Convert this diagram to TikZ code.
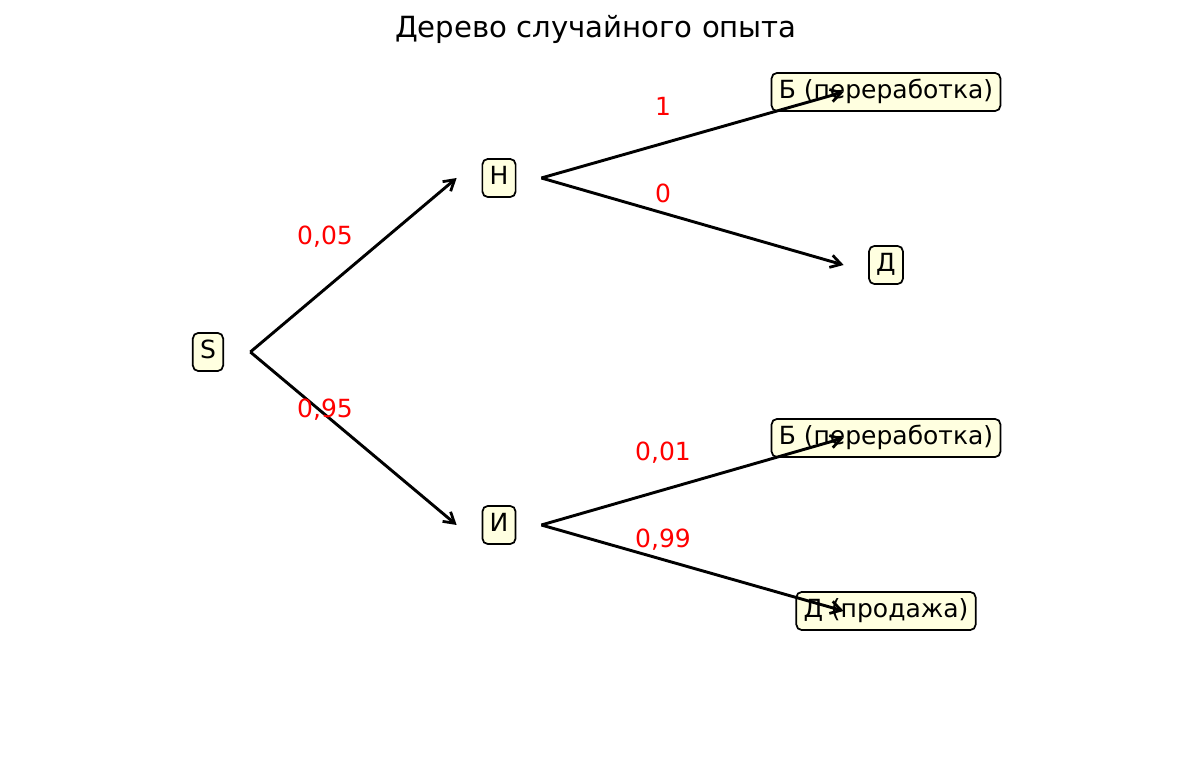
\documentclass[tikz,border=0pt]{standalone}
\usepackage{fontspec}
\setmainfont{DejaVu Sans}
\usetikzlibrary{arrows.meta}
\definecolor{boxfill}{HTML}{FFFFE0}
\begin{document}
\begin{tikzpicture}[x=0.72pt,y=-0.72pt,
  treenode/.style={draw=black,line width=1.25pt,fill=boxfill,rounded corners=4pt,
    font=\fontsize{18}{21}\selectfont,text height=13.2pt,text depth=3.4pt,
    minimum height=27.5pt,inner xsep=5.2pt,inner ysep=0pt},
  problabel/.style={text=red,font=\fontsize{18}{21}\selectfont,inner sep=0pt},
  branch/.style={line width=2.1pt,-{Straight Barb[length=7.5pt,width=9pt,line width=2pt]}}]
\useasboundingbox (0,0) rectangle (1192,757);
\node[font=\fontsize{21}{25}\selectfont,inner sep=0pt] (title) at (596,29.5) {Дерево случайного опыта};
\node[treenode] (S) at (208,352) {S};
\node[treenode] (N) at (499,178) {Н};
\node[treenode] (I) at (499,525) {И};
\node[treenode] (B1) at (886,92) {Б (переработка)};
\node[treenode] (D1) at (886,265) {Д};
\node[treenode] (B2) at (886,438) {Б (переработка)};
\node[treenode] (D2) at (886,611) {Д (продажа)};
\draw[branch] ([xshift=30.5pt]S.center) -- ([xshift=-30.5pt]N.center);
\draw[branch] ([xshift=30.5pt]S.center) -- ([xshift=-30.5pt]I.center);
\draw[branch] ([xshift=30.5pt]N.center) -- ([xshift=-30.5pt]B1.center);
\draw[branch] ([xshift=30.5pt]N.center) -- ([xshift=-30.5pt]D1.center);
\draw[branch] ([xshift=30.5pt]I.center) -- ([xshift=-30.5pt]B2.center);
\draw[branch] ([xshift=30.5pt]I.center) -- ([xshift=-30.5pt]D2.center);
\node[problabel] (p1) at (325,237) {0,05};
\node[problabel] (p2) at (325,410) {0,95};
\node[problabel] (p3) at (663,106) {1};
\node[problabel] (p4) at (663,193) {0};
\node[problabel] (p5) at (663,453) {0,01};
\node[problabel] (p6) at (663,540) {0,99};
\end{tikzpicture}
\end{document}
